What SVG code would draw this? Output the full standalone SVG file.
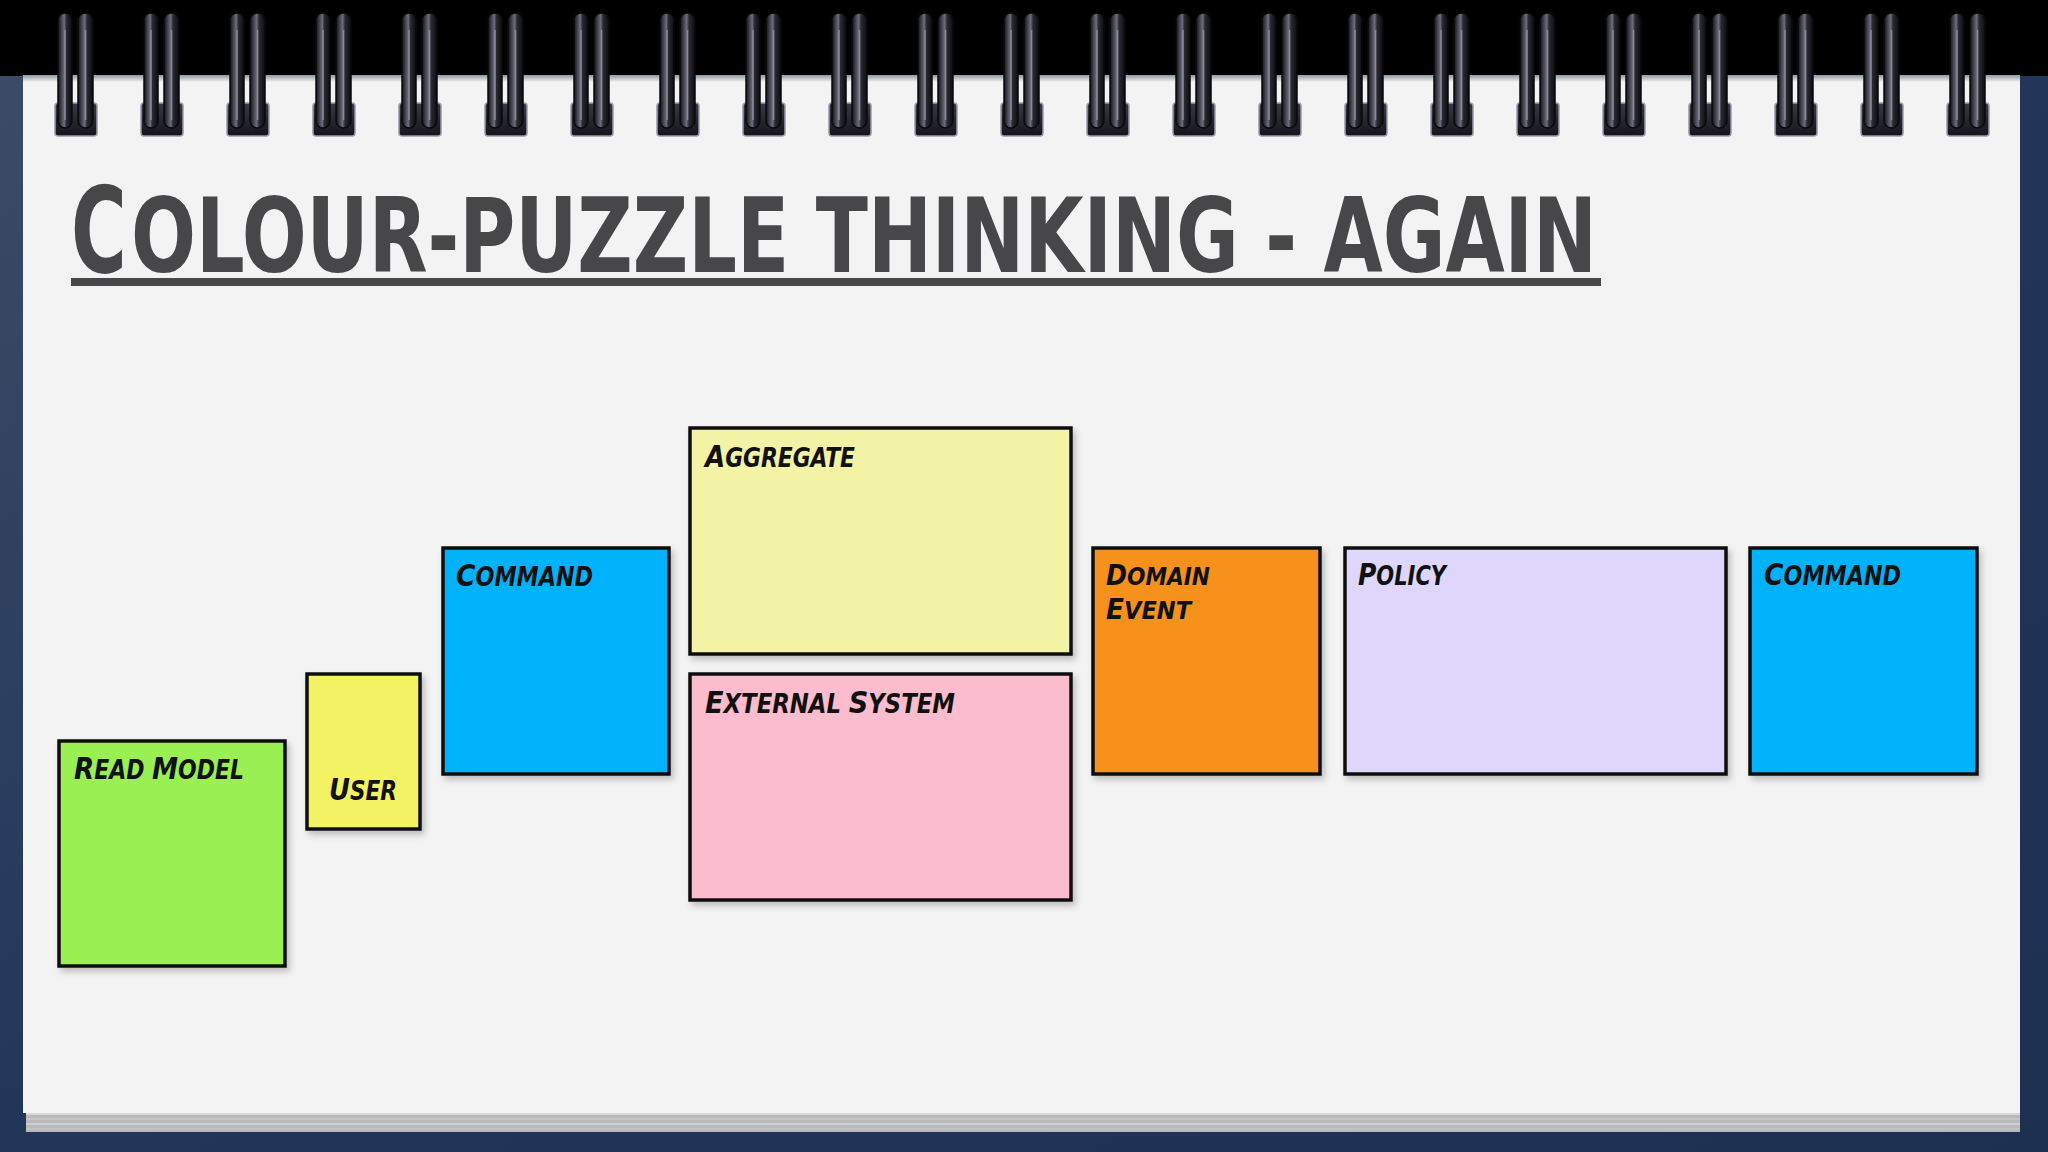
<svg xmlns="http://www.w3.org/2000/svg" xmlns:xlink="http://www.w3.org/1999/xlink" width="2048" height="1152" viewBox="0 0 2048 1152">
<style>
.note{stroke:#111;stroke-width:3.5;filter:url(#shadow)}
.lbl{font-family:"DejaVu Sans Condensed","DejaVu Sans",sans-serif;font-weight:bold;font-style:oblique;fill:#111}
.b{font-size:31px}
.s{font-size:26px}
.title{font-family:"DejaVu Sans Condensed","DejaVu Sans",sans-serif;font-weight:bold;fill:#47474a}
</style>
<defs>
<linearGradient id="bg" x1="0" y1="0" x2="1" y2="1">
<stop offset="0" stop-color="#3d4d66"/>
<stop offset="0.5" stop-color="#22365a"/>
<stop offset="1" stop-color="#1e3050"/>
</linearGradient>
<linearGradient id="loop" x1="0" y1="0" x2="1" y2="0">
<stop offset="0" stop-color="#111116"/>
<stop offset="0.45" stop-color="#6e6e7c"/>
<stop offset="0.6" stop-color="#2a2a33"/>
<stop offset="1" stop-color="#0c0c10"/>
</linearGradient>
<linearGradient id="base" x1="0" y1="0" x2="0" y2="1">
<stop offset="0" stop-color="#3a3a46"/>
<stop offset="1" stop-color="#14141a"/>
</linearGradient>
<linearGradient id="topedge" x1="0" y1="0" x2="0" y2="1">
<stop offset="0" stop-color="#8e979f"/>
<stop offset="1" stop-color="#f3f3f4"/>
</linearGradient>
<filter id="shadow" x="-10%" y="-10%" width="130%" height="130%">
<feDropShadow dx="3" dy="4" stdDeviation="3" flood-color="#000" flood-opacity="0.22"/>
</filter>
<g id="ring">
<rect x="-20" y="103" width="42" height="33" rx="3" fill="url(#base)" stroke="#9a9aaa" stroke-width="1.5"/>
<rect x="-17" y="13" width="14" height="115" rx="7" fill="url(#loop)" stroke="#0a0a0e" stroke-width="1.5"/>
<rect x="3" y="13" width="15" height="115" rx="7.5" fill="url(#loop)" stroke="#0a0a0e" stroke-width="1.5"/>
<line x1="-10" y1="30" x2="-10" y2="120" stroke="#8a8a98" stroke-width="1.5"/>
<line x1="10.5" y1="30" x2="10.5" y2="120" stroke="#8a8a98" stroke-width="1.5"/>
</g>
</defs>

<!-- background -->
<rect x="0" y="0" width="2048" height="1152" fill="url(#bg)"/>
<rect x="0" y="0" width="2048" height="76" fill="#000"/>

<!-- page stack -->
<rect x="26" y="1108" width="1994" height="24" fill="#b9b9bb"/>
<line x1="26" y1="1114" x2="2020" y2="1114" stroke="#d8d8da" stroke-width="2"/>
<line x1="26" y1="1119" x2="2020" y2="1119" stroke="#c6c6c8" stroke-width="2"/>
<line x1="26" y1="1124" x2="2020" y2="1124" stroke="#d0d0d2" stroke-width="2"/>
<line x1="26" y1="1129" x2="2020" y2="1129" stroke="#c2c2c4" stroke-width="2"/>

<!-- paper -->
<rect x="23" y="75" width="1997" height="1038" fill="#f3f3f4"/>
<rect x="23" y="75" width="1997" height="7" fill="url(#topedge)"/>

<!-- rings -->
<g id="rings">
<use xlink:href="#ring" x="75"/><use xlink:href="#ring" x="161"/><use xlink:href="#ring" x="247"/>
<use xlink:href="#ring" x="333"/><use xlink:href="#ring" x="419"/><use xlink:href="#ring" x="505"/>
<use xlink:href="#ring" x="591"/><use xlink:href="#ring" x="677"/><use xlink:href="#ring" x="763"/>
<use xlink:href="#ring" x="849"/><use xlink:href="#ring" x="935"/><use xlink:href="#ring" x="1021"/>
<use xlink:href="#ring" x="1107"/><use xlink:href="#ring" x="1193"/><use xlink:href="#ring" x="1279"/>
<use xlink:href="#ring" x="1365"/><use xlink:href="#ring" x="1451"/><use xlink:href="#ring" x="1537"/>
<use xlink:href="#ring" x="1623"/><use xlink:href="#ring" x="1709"/><use xlink:href="#ring" x="1795"/>
<use xlink:href="#ring" x="1881"/><use xlink:href="#ring" x="1967"/>
</g>

<!-- title -->
<g id="title">
<text class="title" transform="translate(71,272) scale(0.71,1)" x="0" y="0" font-size="119">C</text>
<text class="title" x="131" y="272" font-size="103" textLength="1466" lengthAdjust="spacingAndGlyphs">OLOUR-PUZZLE THINKING - AGAIN</text>
<rect x="71" y="278" width="1530" height="8" fill="#47474a"/>
</g>

<!-- notes -->
<g id="read-model">
<rect class="note" x="59" y="741" width="226" height="225" fill="#9aef52"/>
<text class="lbl" x="74" y="779" textLength="170" lengthAdjust="spacingAndGlyphs"><tspan class="b">R</tspan><tspan class="s">EAD </tspan><tspan class="b">M</tspan><tspan class="s">ODEL</tspan></text>
</g>
<g id="user">
<rect class="note" x="307" y="674" width="113" height="155" fill="#f2f262"/>
<text class="lbl" x="329" y="800" textLength="68" lengthAdjust="spacingAndGlyphs"><tspan class="b">U</tspan><tspan class="s">SER</tspan></text>
</g>
<g id="command-1">
<rect class="note" x="443" y="548" width="226" height="226" fill="#00b2f9"/>
<text class="lbl" x="456" y="586" textLength="137" lengthAdjust="spacingAndGlyphs"><tspan class="b">C</tspan><tspan class="s">OMMAND</tspan></text>
</g>
<g id="aggregate">
<rect class="note" x="690" y="428" width="381" height="226" fill="#f3f3a6"/>
<text class="lbl" x="705" y="467" textLength="150" lengthAdjust="spacingAndGlyphs"><tspan class="b">A</tspan><tspan class="s">GGREGATE</tspan></text>
</g>
<g id="external-system">
<rect class="note" x="690" y="674" width="381" height="226" fill="#fbbccd"/>
<text class="lbl" x="705" y="713" textLength="250" lengthAdjust="spacingAndGlyphs"><tspan class="b">E</tspan><tspan class="s">XTERNAL </tspan><tspan class="b">S</tspan><tspan class="s">YSTEM</tspan></text>
</g>
<g id="domain-event">
<rect class="note" x="1093" y="548" width="227" height="226" fill="#f6911f"/>
<text class="lbl" x="1106" y="585" textLength="104" lengthAdjust="spacingAndGlyphs"><tspan font-size="28">D</tspan><tspan font-size="24">OMAIN</tspan></text>
<text class="lbl" x="1106" y="619" textLength="85" lengthAdjust="spacingAndGlyphs"><tspan font-size="28">E</tspan><tspan font-size="24">VENT</tspan></text>
</g>
<g id="policy">
<rect class="note" x="1345" y="548" width="381" height="226" fill="#ded6fb"/>
<text class="lbl" x="1358" y="585" textLength="88" lengthAdjust="spacingAndGlyphs"><tspan class="b">P</tspan><tspan class="s">OLICY</tspan></text>
</g>
<g id="command-2">
<rect class="note" x="1750" y="548" width="227" height="226" fill="#00b2f9"/>
<text class="lbl" x="1764" y="585" textLength="137" lengthAdjust="spacingAndGlyphs"><tspan class="b">C</tspan><tspan class="s">OMMAND</tspan></text>
</g>
<g id="connectors"/>
</svg>
